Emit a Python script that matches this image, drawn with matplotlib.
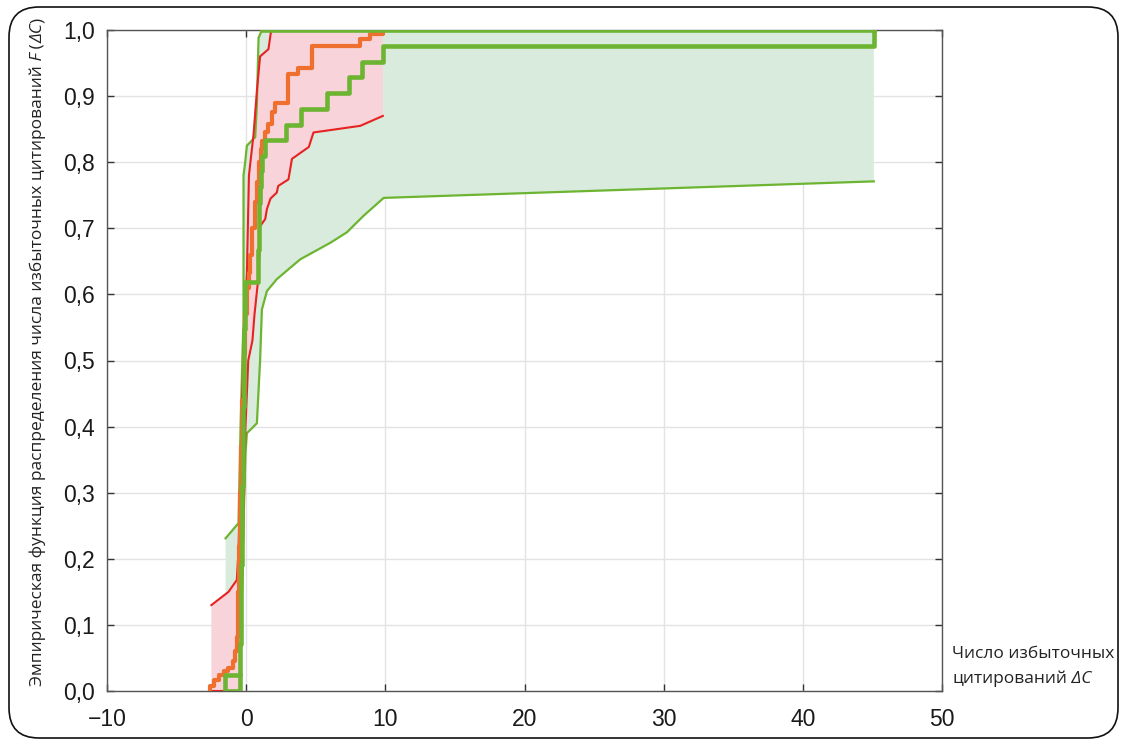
import matplotlib
matplotlib.use("Agg")
import matplotlib.pyplot as plt
import matplotlib.patches as mpatches
from matplotlib.transforms import IdentityTransform
from matplotlib.ticker import FuncFormatter
import numpy as np

# --- data ---
# thick green: empirical CDF of the second sample (jump positions and levels)
green_step_x = [-1.50, -0.43, -0.41, -0.40, -0.38, -0.37, -0.35, -0.34, -0.33, -0.31,
                -0.30, -0.29, -0.27, -0.26, -0.25, -0.23, -0.22, -0.20, -0.19, -0.17,
                -0.16, -0.14, -0.12, -0.11, -0.09, -0.07, 0.86, 0.88, 0.90, 0.92,
                0.95, 0.98, 1.05, 1.15, 1.37, 2.85, 3.95, 5.80, 7.40, 8.30, 9.86, 45.1]
green_step_F = [0.024, 0.048, 0.071, 0.095, 0.119, 0.143, 0.167, 0.190, 0.214, 0.238,
                0.262, 0.286, 0.310, 0.333, 0.357, 0.381, 0.405, 0.429, 0.452, 0.476,
                0.500, 0.524, 0.548, 0.571, 0.595, 0.619, 0.643, 0.667, 0.690, 0.714,
                0.738, 0.762, 0.786, 0.810, 0.833, 0.857, 0.881, 0.905, 0.929, 0.952,
                0.976, 1.000]

# thick orange: empirical CDF of the first sample
orange_x = [-2.62, -2.30, -1.95, -1.60, -1.30, -0.95, -0.80, -0.67, -0.60, -0.52,
            -0.44, -0.36, -0.28, -0.18, -0.08, 0.05, 0.17, 0.30, 0.45, 0.60,
            0.75, 0.89, 0.95, 1.05, 1.15, 1.35, 1.58, 1.85, 2.09, 3.04,
            3.76, 4.70, 8.20, 8.90, 9.86]
orange_F = [0.008, 0.017, 0.024, 0.030, 0.035, 0.045, 0.060, 0.082, 0.150, 0.220,
            0.300, 0.370, 0.440, 0.510, 0.570, 0.610, 0.633, 0.660, 0.700, 0.740,
            0.770, 0.785, 0.800, 0.820, 0.832, 0.845, 0.858, 0.876, 0.889, 0.933,
            0.943, 0.976, 0.986, 0.994, 1.000]

# red band (confidence bounds for the orange CDF)
red_up_x = [-2.50, -1.27, -0.67, -0.55, -0.45, -0.33, -0.20, -0.08, 0.05, 0.12,
            0.20, 0.53, 0.77, 1.00, 1.60, 1.80, 9.82]
red_up_F = [0.130, 0.150, 0.168, 0.214, 0.300, 0.400, 0.500, 0.580, 0.630, 0.700,
            0.780, 0.842, 0.908, 0.960, 0.971, 1.000, 1.000]
red_lo_x = [-2.50, -0.45, -0.35, -0.20, -0.05, 0.15, 0.45, 0.60, 0.85, 0.95,
            1.00, 1.37, 1.49, 1.75, 2.20, 2.30, 3.04, 3.17, 3.29, 4.50,
            4.84, 8.20, 9.82]
red_lo_F = [0.000, 0.000, 0.100, 0.250, 0.400, 0.500, 0.530, 0.570, 0.620, 0.660,
            0.703, 0.714, 0.729, 0.745, 0.754, 0.764, 0.774, 0.790, 0.805, 0.823,
            0.845, 0.855, 0.870]

# green band (confidence bounds for the green CDF)
green_up_x = [-1.48, -0.55, -0.40, -0.25, -0.19, -0.19, -0.07, 0.05, 0.65, 0.77,
              0.89, 1.13, 45.1]
green_up_F = [0.231, 0.254, 0.400, 0.520, 0.560, 0.780, 0.800, 0.825, 0.838, 0.888,
              0.988, 1.000, 1.000]
green_lo_x = [-1.48, -0.45, -0.35, -0.20, -0.05, 0.05, 0.77, 1.00, 1.13, 1.49,
              2.20, 3.88, 6.04, 7.24, 8.44, 9.88, 45.1]
green_lo_F = [0.000, 0.000, 0.100, 0.250, 0.360, 0.390, 0.405, 0.500, 0.577, 0.605,
              0.623, 0.653, 0.678, 0.694, 0.719, 0.746, 0.771]

x_ticks = [-10, 0, 10, 20, 30, 40, 50]
y_ticks = [0.0, 0.1, 0.2, 0.3, 0.4, 0.5, 0.6, 0.7, 0.8, 0.9, 1.0]

ylabel_parts = [("Эмпирическая функция распределения числа избыточных цитирований", "normal"),
                (" F", "italic"), (" (", "normal"), ("ΔC", "italic"), (")", "normal")]
xlabel_line1 = [("Число избыточных", "normal")]
xlabel_line2 = [("цитирований", "normal"), (" ΔC", "italic")]

# --- colours ---
c_green = "#6cb431"
c_red = "#e62222"
c_orange = "#ef6f2e"
c_pink = "#f8d3d9"
c_lgreen = "#d9ebdc"

W, H = 1121, 740
fig = plt.figure(figsize=(W / 100, H / 100), dpi=100)
ax = fig.add_axes([107 / W, (H - 691) / H, (942 - 107) / W, (691 - 30) / H])

# bands
ax.fill(green_up_x + green_lo_x[::-1], green_up_F + green_lo_F[::-1],
        color=c_lgreen, lw=0, zorder=1)
ax.fill(red_up_x + red_lo_x[::-1], red_up_F + red_lo_F[::-1],
        color=c_pink, lw=0, zorder=1.5)

# band borders
ax.plot(green_up_x, green_up_F, color=c_green, lw=1.6, zorder=3)
ax.plot(green_lo_x, green_lo_F, color=c_green, lw=1.6, zorder=3)
ax.plot(red_up_x[:-1], red_up_F[:-1], color=c_red, lw=1.5, zorder=3)
ax.plot(red_lo_x, red_lo_F, color=c_red, lw=1.5, zorder=3)

# empirical CDFs
ax.step([orange_x[0]] + orange_x, [0] + orange_F, where="post",
        color=c_orange, lw=3.0, zorder=4)
ax.step([green_step_x[0]] + green_step_x, [0] + green_step_F, where="post",
        color=c_green, lw=3.3, zorder=5)
# closing edges of the thick green outline
ax.plot([green_step_x[0], green_step_x[1], green_step_x[1]],
        [0, 0, green_step_F[0]], color=c_green, lw=3.3, zorder=5)
ax.plot([green_up_x[-2], green_up_x[-1]], [green_up_F[-2], green_up_F[-1]],
        color=c_green, lw=3.3, zorder=5)

ax.set_xlim(-10, 50)
ax.set_ylim(0, 1)
ax.set_xticks(x_ticks)
ax.set_yticks(y_ticks)
ax.yaxis.set_major_formatter(FuncFormatter(lambda v, p: f"{v:.1f}".replace(".", ",")))
ax.grid(True, color="#e3e3e3", lw=1.0, zorder=0)
ax.set_axisbelow(True)
for s in ax.spines.values():
    s.set_color("#555555")
    s.set_linewidth(1.0)
ax.tick_params(direction="in", length=5, width=1, color="#333333",
               top=True, right=True, labelsize=16.5, labelcolor="#1a1a1a")
ax.tick_params(axis="x", pad=12)
ax.tick_params(axis="y", pad=8.5)
for lab in ax.get_xticklabels() + ax.get_yticklabels():
    lab.set_family(["Liberation Sans", "DejaVu Sans"])

# --- labels built from pieces so that F and ΔC can be italic ---
renderer = fig.canvas.get_renderer()


def put_parts(x, y, parts, rotation, size, family):
    texts = []
    for s, style in parts:
        t = fig.text(x, y, s, transform=IdentityTransform(), rotation=rotation,
                     rotation_mode="anchor", ha="left", va="baseline",
                     fontsize=size, family=family, fontstyle=style, color="#222222")
        bb = t.get_window_extent(renderer)
        if rotation == 90:
            y = bb.y1
        else:
            x = bb.x1
        texts.append(t)
    return texts, x, y


lab_family = ["Open Sans", "DejaVu Sans"]
ytexts, _, y_end = put_parts(42, 0, ylabel_parts, 90, 12.5, lab_family)
shift = (H - 352) - y_end / 2
for t in ytexts:
    px, py = t.get_position()
    t.set_position((px, py + shift))

put_parts(952, H - 658, xlabel_line1, 0, 12.5, lab_family)
put_parts(952, H - 683, xlabel_line2, 0, 12.5, lab_family)

# rounded frame round the whole picture
frame = mpatches.FancyBboxPatch((9, 2), 1118 - 9, 731, boxstyle="round,pad=0,rounding_size=30",
                                transform=IdentityTransform(), fill=False,
                                ec="#111111", lw=1.2)
fig.add_artist(frame)

fig.savefig("out.png", dpi=100)
